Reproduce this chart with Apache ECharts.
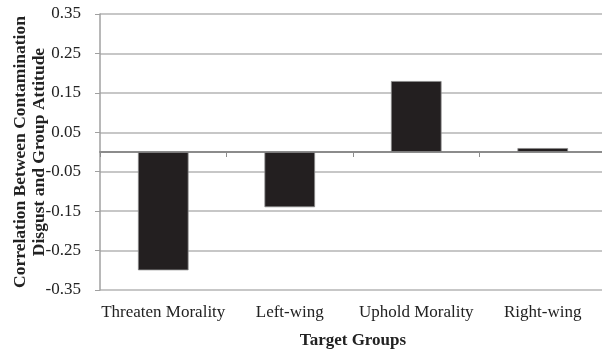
<!DOCTYPE html>
<html><head><meta charset="utf-8">
<script src="https://cdn.jsdelivr.net/npm/echarts@6/dist/echarts.min.js"></script>
<style>html,body{margin:0;padding:0;background:#fff}#c{width:602px;height:350px}</style>
</head><body><div id="c"></div>
<script>
const categories = ["Threaten Morality", "Left-wing", "Uphold Morality", "Right-wing"];
const values = [-0.30, -0.14, 0.18, 0.01];
const yTicks = [-0.35, -0.25, -0.15, -0.05, 0.05, 0.15, 0.25, 0.35];
const yTitle = "Correlation Between Contamination\nDisgust and Group Attitude";
const xTitle = "Target Groups";

const font = "Liberation Serif";
const chart = echarts.init(document.getElementById('c'));
chart.setOption({
  animation: false,
  grid: {left: 100, top: 14, width: 506, height: 276, containLabel: false, outerBoundsMode: 'none'},
  xAxis: [{
    type: 'category', data: categories, position: 'bottom',
    axisLine: {onZero: true, lineStyle: {color: '#8c8c8c', width: 2}},
    axisTick: {show: true, alignWithLabel: false, length: 5, lineStyle: {color: '#8c8c8c'}},
    axisLabel: {show: false}
  }, {
    type: 'category', data: categories, position: 'bottom',
    axisLine: {show: false, onZero: false}, axisTick: {show: false},
    axisLabel: {interval: 0, fontFamily: font, fontSize: 17, color: '#222', margin: 14},
    name: xTitle, nameLocation: 'middle', nameGap: 42, nameMoveOverlap: false,
    nameTextStyle: {fontFamily: font, fontSize: 17, fontWeight: 'bold', color: '#222'}
  }],
  yAxis: {
    type: 'value', min: -0.35, max: 0.35, interval: 0.1,
    axisLine: {show: true, lineStyle: {color: '#a0a0a0', width: 1.5}},
    axisTick: {show: true, length: 5, lineStyle: {color: '#a0a0a0'}},
    splitLine: {lineStyle: {color: '#b4b4b4', width: 1.5}},
    axisLabel: {fontFamily: font, fontSize: 17, color: '#222', margin: 19,
      formatter: v => { const m = yTicks.find(t => Math.abs(t - v) < 1e-6); return m === undefined ? '' : m.toFixed(2); }},
    name: yTitle, nameLocation: 'middle', nameRotate: 90, nameGap: 51, nameMoveOverlap: false,
    nameTextStyle: {fontFamily: font, fontSize: 17.5, fontWeight: 'bold', color: '#222', lineHeight: 19}
  },
  series: [{
    type: 'bar', data: values, xAxisIndex: 0, barWidth: '40%',
    itemStyle: {color: '#231f20', borderColor: '#8a8a8a', borderWidth: 0.8}
  }]
});
</script></body></html>
